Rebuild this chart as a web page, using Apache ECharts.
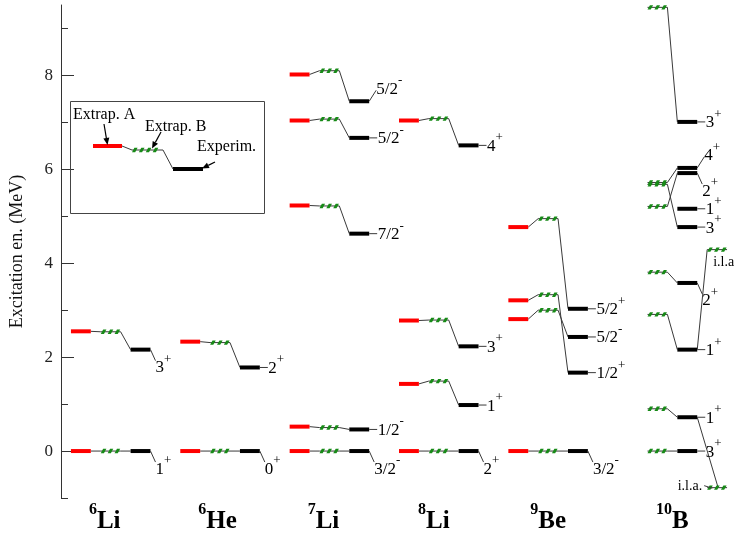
<!DOCTYPE html>
<html><head><meta charset="utf-8">
<script src="https://cdn.jsdelivr.net/npm/echarts@6/dist/echarts.min.js"></script>
<style>html,body{margin:0;padding:0;background:#fff}#c{width:737px;height:541px}</style>
</head><body><div id="c"></div>
<script>
// ---------------- data ----------------
const nuclei = ['6Li', '6He', '7Li', '8Li', '9Be', '10B'];
const massNumbers = ['6', '6', '7', '8', '9', '10'];
const elementSymbols = ['Li', 'He', 'Li', 'Li', 'Be', 'B'];

const li6ExtrapA = [0.00, 2.55];
const li6ExtrapB = [0.00, 2.54];
const li6Experiment = [0.00, 2.16];
const li6Spins = ['1+', '3+'];

const he6ExtrapA = [0.00, 2.33];
const he6ExtrapB = [0.00, 2.31];
const he6Experiment = [0.00, 1.78];
const he6Spins = ['0+', '2+'];

const li7ExtrapA = [0.00, 0.52, 5.23, 7.04, 8.02];
const li7ExtrapB = [0.00, 0.50, 5.22, 7.07, 8.10];
const li7Experiment = [0.00, 0.46, 4.63, 6.67, 7.45];
const li7Spins = ['3/2-', '1/2-', '7/2-', '5/2-', '5/2-'];

const li8ExtrapA = [0.00, 1.43, 2.78, 7.04];
const li8ExtrapB = [0.00, 1.49, 2.79, 7.08];
const li8Experiment = [0.00, 0.98, 2.23, 6.51];
const li8Spins = ['2+', '1+', '3+', '4+'];

const be9ExtrapA = [0.00, 2.81, 3.21, 4.77];
const be9ExtrapB = [0.00, 3.00, 3.33, 4.95];
const be9Experiment = [0.00, 2.43, 1.67, 3.03];
const be9Spins = ['3/2-', '5/2-', '1/2+', '5/2+'];

const b10ExtrapA = [];
const b10ExtrapB = [0.00, 0.90, 2.91, 3.81, 5.21, 5.68, 5.72, 9.45];
const b10Experiment = [0.00, 0.72, 2.16, 3.58, 5.92, 4.77, 6.03, 7.01];
const b10Spins = ['3+', '1+', '1+', '2+', '2+', '3+', '4+', '3+'];
const b10ExtraExperiment = [5.16];
const b10ExtraSpins = ['1+'];
const b10IntruderB = [4.29, -0.78];        // "i.l.a." levels (Extrap. B)
const b10IntruderPartner = [2.16, 0.72];   // experimental levels they are linked to
const b10IntruderNames = ['i.l.a', 'i.l.a.'];

const yTickValues = [-1, 0, 1, 2, 3, 4, 5, 6, 7, 8, 9];
const legendNames = ['Extrap. A', 'Extrap. B', 'Experim.'];

// ---------------- layout / style ----------------
const li6Leaders = ['down', 'down'];
const he6Leaders = ['down', 'h'];
const li7Leaders = ['down', 'h', 'h', 'h', 'up'];
const li8Leaders = ['down', 'h', 'h', 'h'];
const be9Leaders = ['down', 'h', 'h', 'h'];
const b10Leaders = ['h', 'h', 'h', 'down', 'down', 'h', 'up', 'h'];
const b10ExtraLeaders = ['h'];
const nucLabelShift = [-0.6, -0.25, -0.6, -0.5, 0, 0]; // horizontal nudge of the nucleus names (axis units)

const SERIF = '"Liberation Serif", "DejaVu Serif", serif';
const RED = '#ff0000', GREEN = '#178a17', BLACK = '#000000', LINK = '#3a3a3a';
const GROUP_STEP = 11;

const groups = [
  { A: li6ExtrapA, B: li6ExtrapB, E: li6Experiment, S: li6Spins, L: li6Leaders },
  { A: he6ExtrapA, B: he6ExtrapB, E: he6Experiment, S: he6Spins, L: he6Leaders },
  { A: li7ExtrapA, B: li7ExtrapB, E: li7Experiment, S: li7Spins, L: li7Leaders },
  { A: li8ExtrapA, B: li8ExtrapB, E: li8Experiment, S: li8Spins, L: li8Leaders },
  { A: be9ExtrapA, B: be9ExtrapB, E: be9Experiment, S: be9Spins, L: be9Leaders },
  { A: b10ExtrapA, B: b10ExtrapB, E: b10Experiment, S: b10Spins, L: b10Leaders }
];

const bars = [];   // [x0, x1, y, kind]  kind 0=A,1=B,2=Exp
const links = [];  // [x0, y0, x1, y1]
const labels = []; // {x, y, spin, leader}
const nucLabels = []; // {x, idx}

groups.forEach((g, i) => {
  const off = GROUP_STEP * i;
  g.B.forEach((b, j) => {
    if (g.A.length) {
      bars.push([off + 1, off + 3, g.A[j], 0]);
      links.push([off + 3, g.A[j], off + 4, b]);
    }
    bars.push([off + 4, off + 6, b, 1]);
    bars.push([off + 7, off + 9, g.E[j], 2]);
    links.push([off + 6, b, off + 7, g.E[j]]);
    labels.push({ x: off + 9, y: g.E[j], spin: g.S[j], leader: g.L[j] });
  });
  nucLabels.push({ x: (g.A.length ? off + 5 : off + 6.5) + nucLabelShift[i], idx: i });
});
// 10B extras
const b10Off = GROUP_STEP * 5;
b10ExtraExperiment.forEach((e, j) => {
  bars.push([b10Off + 7, b10Off + 9, e, 2]);
  labels.push({ x: b10Off + 9, y: e, spin: b10ExtraSpins[j], leader: b10ExtraLeaders[j] });
});
const ilaText = [];
b10IntruderB.forEach((b, j) => {
  bars.push([b10Off + 10, b10Off + 12, b, 1]);
  if (j === 0) links.push([b10Off + 10, b, b10Off + 9, b10IntruderPartner[j]]);
  else links.push([b10Off + 9, b10IntruderPartner[j], b10Off + 11.1, b]);
  ilaText.push({ x: b10Off + 10, y: b, name: b10IntruderNames[j], below: j === 0 });
});

// ---------------- helpers ----------------
function hatch(x0, x1, y) {
  const ch = [{ type: 'line', shape: { x1: x0, y1: y, x2: x1, y2: y }, style: { stroke: LINK, lineWidth: 1 } }];
  const seg = 5.6, gap = 1.3, sl = 2.4, h = 2.2;
  for (let sx = x0; sx + seg <= x1 + 1; sx += seg + gap) {
    ch.push({ type: 'polygon', shape: { points: [[sx, y + h], [sx + seg - sl, y + h], [sx + seg, y - h], [sx + sl, y - h]] },
      style: { fill: GREEN } });
  }
  return ch;
}
function spinRich(s) {
  const main = s.slice(0, -1), sup = s.slice(-1);
  return '{m|' + main + '}{s|' + (sup === '-' ? '-' : '+') + '}';
}
const spinRichStyles = {
  m: { fontSize: 17, fontFamily: SERIF, lineHeight: 30, fill: '#000' },
  s: { fontSize: 13, fontFamily: SERIF, lineHeight: 10, verticalAlign: 'top', fill: '#000' }
};

// ---------------- chart ----------------
const chart = echarts.init(document.getElementById('c'), null, { renderer: 'canvas' });

const graphicEls = [
  { type: 'rect', shape: { x: 70.5, y: 101.5, width: 194, height: 112 }, style: { fill: 'none', stroke: '#444', lineWidth: 1 }, z: 10 },
  { type: 'rect', shape: { x: 93, y: 144, width: 29, height: 4 }, style: { fill: RED }, z: 10 },
  { type: 'group', children: hatch(132, 163, 150), z: 10 },
  { type: 'rect', shape: { x: 173, y: 167, width: 30, height: 4 }, style: { fill: BLACK }, z: 10 },
  { type: 'line', shape: { x1: 122, y1: 146, x2: 132, y2: 150 }, style: { stroke: LINK, lineWidth: 1 }, z: 10 },
  { type: 'line', shape: { x1: 163, y1: 150, x2: 173, y2: 169 }, style: { stroke: LINK, lineWidth: 1 }, z: 10 },
  { type: 'text', x: 73, y: 115, style: { text: legendNames[0], font: '16px ' + SERIF, fill: '#000', verticalAlign: 'middle' }, z: 10 },
  { type: 'text', x: 145, y: 127, style: { text: legendNames[1], font: '16px ' + SERIF, fill: '#000', verticalAlign: 'middle' }, z: 10 },
  { type: 'text', x: 197, y: 147, style: { text: legendNames[2], font: '16px ' + SERIF, fill: '#000', verticalAlign: 'middle' }, z: 10 }
];
function arrow(x1, y1, x2, y2) {
  const a = Math.atan2(y2 - y1, x2 - x1), L = 7, W = 3;
  const bx = x2 - L * Math.cos(a), by = y2 - L * Math.sin(a);
  const nx = -Math.sin(a) * W, ny = Math.cos(a) * W;
  graphicEls.push({ type: 'line', shape: { x1, y1, x2: bx, y2: by }, style: { stroke: '#000', lineWidth: 1.2 }, z: 10 });
  graphicEls.push({ type: 'polygon', shape: { points: [[x2, y2], [bx + nx, by + ny], [bx - nx, by - ny]] }, style: { fill: '#000' }, z: 10 });
}
arrow(104, 124, 107.5, 145);
arrow(161, 132, 152, 148.5);
arrow(215, 162, 202, 168.5);

const option = {
  animation: false,
  backgroundColor: '#fff',
  grid: { left: 53, right: 0, top: 5, bottom: 43 },
  xAxis: { type: 'value', min: 0, max: 68, show: false },
  yAxis: {
    type: 'value', min: -1, max: 9.5, interval: 1,
    axisLine: { show: true, lineStyle: { color: '#333', width: 1 } },
    axisTick: { show: false },
    splitLine: { show: false },
    axisLabel: { margin: 8, fontSize: 17, fontFamily: SERIF, color: '#222',
      formatter: v => (Math.abs(v % 2) < 1e-9 ? String(v) : '') },
    name: 'Excitation en. (MeV)', nameLocation: 'middle', nameGap: 35, nameRotate: 90,
    nameTextStyle: { fontSize: 18, fontFamily: SERIF, color: '#111' }
  },
  graphic: graphicEls,
  series: [
    { // ticks
      type: 'custom', clip: false, silent: true,
      data: yTickValues.map(v => [0, v]),
      renderItem: (params, api) => {
        const p = api.coord([0, api.value(1)]);
        const len = (yTickValues[params.dataIndex] % 2 === 0) ? 13 : 7;
        return { type: 'line', shape: { x1: p[0], y1: Math.round(p[1]) + 0.5, x2: p[0] + len, y2: Math.round(p[1]) + 0.5 }, style: { stroke: '#333', lineWidth: 1 } };
      }
    },
    { // connecting lines
      type: 'custom', clip: false, silent: true,
      data: links,
      renderItem: (params, api) => {
        const a = api.coord([api.value(0), api.value(1)]), b = api.coord([api.value(2), api.value(3)]);
        return { type: 'line', shape: { x1: a[0], y1: a[1], x2: b[0], y2: b[1] }, style: { stroke: LINK, lineWidth: 1 } };
      }
    },
    { // level bars
      type: 'custom', clip: false, silent: true,
      data: bars,
      renderItem: (params, api) => {
        const y = api.value(2), k = api.value(3);
        const p0 = api.coord([api.value(0), y]), p1 = api.coord([api.value(1), y]);
        if (k === 1) return { type: 'group', children: hatch(p0[0], p1[0], p0[1]) };
        return { type: 'rect', shape: { x: p0[0], y: p0[1] - 2, width: p1[0] - p0[0], height: 4 }, style: { fill: k === 0 ? RED : BLACK } };
      }
    },
    { // spin labels with leaders
      type: 'custom', clip: false, silent: true,
      data: labels.map(l => [l.x, l.y]),
      renderItem: (params, api) => {
        const L = labels[params.dataIndex];
        const p = api.coord([api.value(0), api.value(1)]);
        let lx, ly, tx, ty;
        if (L.leader === 'h') { lx = p[0] + 8; ly = p[1]; tx = p[0] + 8.5; ty = p[1] + 1; }
        else if (L.leader === 'down') { lx = p[0] + 5; ly = p[1] + 11; tx = p[0] + 5; ty = p[1] + 18; }
        else { lx = p[0] + 7; ly = p[1] - 11; tx = p[0] + 7; ty = p[1] - 12; }
        return { type: 'group', children: [
          { type: 'line', shape: { x1: p[0], y1: p[1], x2: lx, y2: ly }, style: { stroke: LINK, lineWidth: 1 } },
          { type: 'text', x: tx, y: ty, style: { text: spinRich(L.spin), rich: spinRichStyles, align: 'left', verticalAlign: 'middle', fill: '#000' } }
        ] };
      }
    },
    { // i.l.a. notes
      type: 'custom', clip: false, silent: true,
      data: ilaText.map(t => [t.x, t.y]),
      renderItem: (params, api) => {
        const T = ilaText[params.dataIndex];
        const p = api.coord([api.value(0), api.value(1)]);
        if (T.below) {
          return { type: 'text', x: p[0] + 6, y: p[1] + 13, style: { text: T.name, font: '14px ' + SERIF, fill: '#000', align: 'left', verticalAlign: 'middle' } };
        }
        return { type: 'group', children: [
          { type: 'text', x: p[0] - 5, y: p[1] - 1, style: { text: T.name, font: '14px ' + SERIF, fill: '#000', align: 'right', verticalAlign: 'middle' } },
          { type: 'line', shape: { x1: p[0] - 3, y1: p[1] - 2, x2: p[0] + 5, y2: p[1] + 0.5 }, style: { stroke: LINK, lineWidth: 1 } }
        ] };
      }
    },
    { // nucleus names
      type: 'custom', clip: false, silent: true,
      data: nucLabels.map(n => [n.x, -1]),
      renderItem: (params, api) => {
        const N = nucLabels[params.dataIndex];
        const p = api.coord([api.value(0), api.value(1)]);
        return { type: 'text', x: p[0], y: p[1] + 24, style: {
          text: '{m|' + massNumbers[N.idx] + '}{e|' + elementSymbols[N.idx] + '}',
          rich: {
            m: { fontSize: 16, fontWeight: 'bold', fontFamily: SERIF, lineHeight: 12, verticalAlign: 'top', fill: '#000' },
            e: { fontSize: 25, fontWeight: 'bold', fontFamily: SERIF, lineHeight: 40, fill: '#000' }
          },
          align: 'center', verticalAlign: 'middle', fill: '#000' } };
      }
    }
  ]
};
chart.setOption(option);
</script>
</body></html>
